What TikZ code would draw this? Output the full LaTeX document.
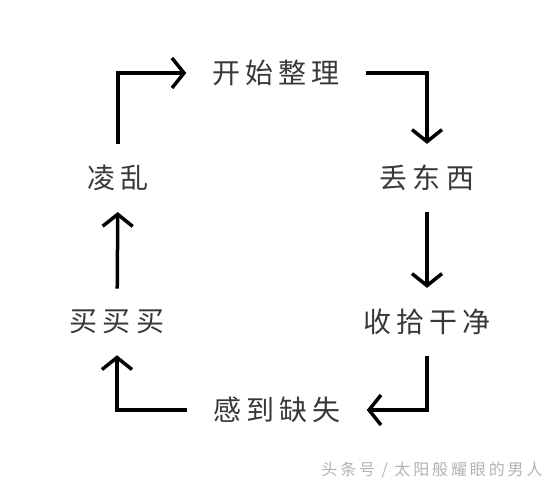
\documentclass[tikz,border=0pt]{standalone}
\usepackage{fontspec}
\newfontfamily\cjk[LetterSpace=18]{Noto Sans CJK SC}
\usetikzlibrary{positioning,arrows.meta}
\definecolor{inkgray}{HTML}{383838}
\tikzset{
	>={Straight Barb[length=12pt,width=30pt,line width=3.5pt]}
}

\begin{document}
\begin{tikzpicture}[
	x = 1pt, y = 1pt,
	every node/.style = {
		font = \cjk\fontsize{28}{30}\selectfont,
		text = inkgray
	},
	stage/.style = {
		inner xsep = 14pt,
		inner ysep = 9pt
	},
	flow/.style = {
		->,
		line width = 3.5pt,
		shorten < = 12pt,
		shorten > = 12pt
	}
	]
	
	\useasboundingbox (0,0) rectangle (550,487);
	
	\node[stage] (start) at (276,414) {开始整理};
	\node[stage] (discard) at (427,309) {丢东西};
	\node[stage] (tidy) at (427,165) {收拾干净};
	\node[stage] (lack) at (277,77) {感到缺失};
	\node[stage] (buy) at (117,165) {买买买};
	\node[stage] (mess) at (118,309) {凌乱};
	\node[font = \cjk\fontsize{16}{17}\selectfont, text = black!30] (mark) at (432,17) {头条号 / 太阳般耀眼的男人};
	
	\draw[flow] (mess.north) |- (start.west);
	\draw[flow] (start.east) -| (discard.north);
	\draw[flow] (discard) -- (tidy);
	\draw[flow] (tidy.south) |- (lack.east);
	\draw[flow] (lack.west) -| (buy.south);
	\draw[flow] (buy) -- (mess);
	
\end{tikzpicture}
\end{document}
